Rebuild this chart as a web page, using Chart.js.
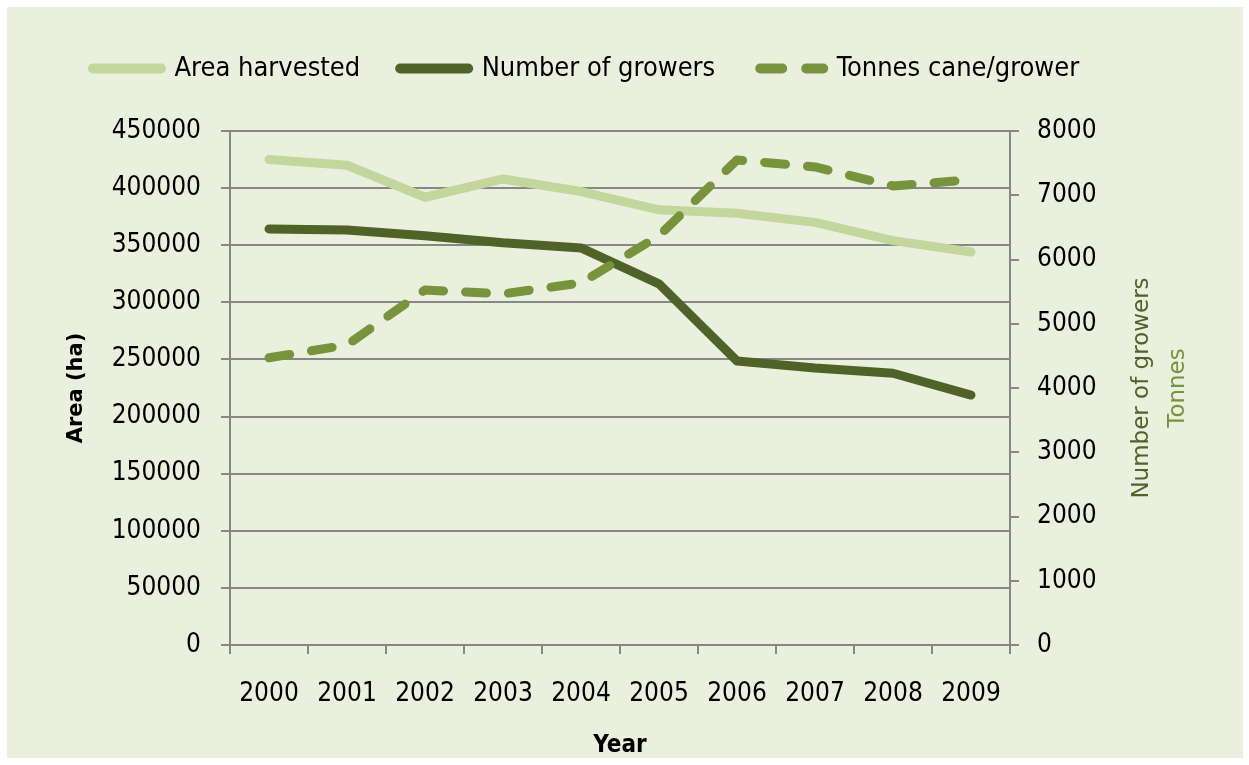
<!DOCTYPE html>
<html>
<head>
<meta charset="utf-8">
<script src="https://cdn.jsdelivr.net/npm/chart.js@4/dist/chart.umd.min.js"></script>
<style>
    html, body { margin: 0; padding: 0; background: #ffffff; }
    #frame {
        position: absolute;
        left: 7px; top: 7px;
        width: 1236px; height: 751px;
        background: #EBF0DE;
    }
</style>
</head>
<body>
<div id="frame"><canvas id="chart" width="1236" height="751"></canvas></div>
<script>
// Chart data
const years = ['2000', '2001', '2002', '2003', '2004', '2005', '2006', '2007', '2008', '2009'];
const areaHarvested = [425000, 420000, 392000, 408000, 397000, 381000, 378000, 370000, 354000, 344000];
const numberOfGrowers = [6475, 6460, 6370, 6260, 6180, 5620, 4420, 4310, 4230, 3890];
const tonnesPerGrower = [4470, 4670, 5525, 5465, 5635, 6370, 7550, 7440, 7145, 7240];

const gridGrey = '#878787';
const condensed = '"DejaVu Sans Condensed", "DejaVu Sans", sans-serif';

// Second-axis title drawn in two colours, as in the original
const rightTitle = {
    id: 'rightTitle',
    afterDraw(chart) {
        const ctx = chart.ctx;
        const midY = (chart.chartArea.top + chart.chartArea.bottom) / 2;
        const lines = [['Number of growers', '#4F6228', 1135], ['Tonnes', '#77933C', 1171]];
        lines.forEach(([text, colour, x]) => {
            ctx.save();
            ctx.font = '23px "DejaVu Sans", sans-serif';
            ctx.textAlign = 'center';
            ctx.textBaseline = 'middle';
            ctx.translate(x, midY);
            ctx.rotate(-Math.PI / 2);
            ctx.fillStyle = colour;
            ctx.fillText(text, 0, 0);
            ctx.restore();
        });
    }
};

// Leave room between the legend and the plot
const legendGap = {
    id: 'legendGap',
    beforeLayout(chart) {
        const lg = chart.legend;
        if (lg && !lg._gapPatched) {
            const fit = lg.fit;
            lg.fit = function () {
                fit.call(this);
                this.height += 39;
            };
            lg._gapPatched = true;
        }
    }
};

function lineDataset(label, data, axis, colour, order, dash) {
    return {
        label: label,
        data: data,
        yAxisID: axis,
        borderColor: colour,
        backgroundColor: colour,
        borderWidth: 9,
        borderDash: dash || [],
        borderCapStyle: 'round',
        borderJoinStyle: 'round',
        pointRadius: 0,
        tension: 0,
        order: order
    };
}

new Chart(document.getElementById('chart'), {
    type: 'line',
    data: {
        labels: years,
        datasets: [
            lineDataset('Area harvested', areaHarvested, 'y', '#C3D69B', 3),
            lineDataset('Number of growers', numberOfGrowers, 'y1', '#4F6228', 2),
            lineDataset('Tonnes cane/grower', tonnesPerGrower, 'y1', '#77933C', 1, [21, 22])
        ]
    },
    options: {
        responsive: false,
        animation: false,
        layout: { padding: { top: 8, left: 46, right: 0, bottom: 0 } },
        plugins: {
            legend: {
                position: 'top',
                align: 'start',
                labels: {
                    usePointStyle: true,
                    pointStyle: 'line',
                    pointStyleWidth: 68,
                    boxHeight: 9,
                    padding: 40,
                    color: '#000',
                    font: { family: condensed, size: 27 },
                    sort: (a, b) => a.datasetIndex - b.datasetIndex,
                    generateLabels(chart) {
                        return chart.data.datasets.map((ds, i) => ({
                            text: ds.label,
                            datasetIndex: i,
                            fillStyle: ds.borderColor,
                            strokeStyle: ds.borderColor,
                            lineWidth: 10,
                            lineCap: 'round',
                            lineJoin: 'round',
                            lineDash: ds.borderDash.length ? [22, 24] : [],
                            lineDashOffset: ds.borderDash.length ? -5 : 0,
                            pointStyle: 'line',
                            fontColor: '#000',
                            hidden: false
                        }));
                    }
                }
            },
            tooltip: { enabled: false }
        },
        scales: {
            x: {
                offset: true,
                grid: {
                    offset: true,
                    drawOnChartArea: false,
                    tickLength: 9,
                    color: gridGrey,
                    lineWidth: 2
                },
                border: { color: gridGrey, width: 2 },
                ticks: {
                    padding: 25,
                    color: '#000',
                    font: { family: condensed, size: 26 }
                },
                title: {
                    display: true,
                    text: 'Year',
                    color: '#000',
                    padding: 0,
                    font: { family: condensed, size: 24, weight: 'bold', lineHeight: 1 }
                },
                afterFit(axis) { axis.height = 113; }
            },
            y: {
                position: 'left',
                min: 0,
                max: 450000,
                grid: {
                    color: gridGrey,
                    lineWidth: 2,
                    tickLength: 9
                },
                border: { color: gridGrey, width: 2 },
                ticks: {
                    stepSize: 50000,
                    padding: 20,
                    color: '#000',
                    font: { family: condensed, size: 26 },
                    callback: (v) => String(v)
                },
                title: {
                    display: true,
                    text: 'Area (ha)',
                    color: '#000',
                    padding: { top: 13, bottom: 0 },
                    font: { family: '"DejaVu Sans", sans-serif', size: 21, weight: 'bold', lineHeight: 1 }
                },
                afterFit(axis) { axis.width = 177; }
            },
            y1: {
                position: 'right',
                min: 0,
                max: 8000,
                grid: {
                    drawOnChartArea: false,
                    color: gridGrey,
                    lineWidth: 2,
                    tickLength: 9
                },
                border: { color: gridGrey, width: 2 },
                ticks: {
                    stepSize: 1000,
                    padding: 18,
                    color: '#000',
                    font: { family: condensed, size: 26 },
                    callback: (v) => String(v)
                },
                afterFit(axis) { axis.width = 233; }
            }
        }
    },
    plugins: [legendGap, rightTitle]
});
</script>
</body>
</html>
